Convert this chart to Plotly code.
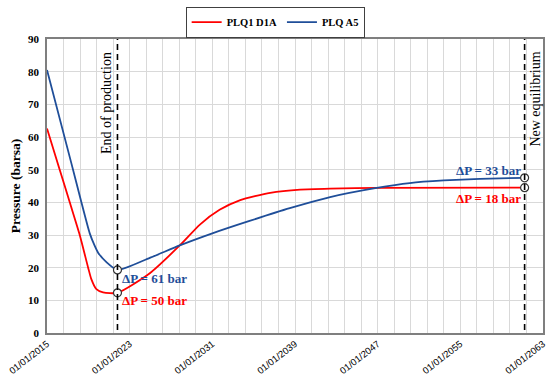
import plotly.graph_objects as go

# ---- data ----
a5_dates = ["2015-01-01", "2017-05-10", "2018-04-08", "2019-02-20",
            "2019-08-08", "2019-12-12", "2020-10-01", "2021-10-27", "2024-12-13",
            "2027-11-06", "2031-01-01", "2034-08-08", "2038-07-02", "2042-05-26",
            "2046-11-25", "2050-02-06", "2053-05-26", "2056-11-25", "2061-03-22"]
a5_vals = [80.5, 52.0, 40.8, 30.5,
           26.8, 24.6, 21.7, 19.3, 23.0,
           26.8, 30.5, 34.3, 38.2, 41.6,
           44.4, 45.9, 46.7, 47.2, 47.5]

d1a_dates = ["2015-01-01", "2016-03-25", "2017-03-15", "2018-03-03", "2018-12-25",
             "2019-04-20", "2019-10-12", "2020-06-05", "2021-10-27", "2024-12-13",
             "2027-11-06", "2029-10-19", "2031-09-13", "2033-09-13", "2036-08-07",
             "2039-07-02", "2042-05-26", "2047-01-01", "2061-03-22"]
d1a_vals = [62.6, 50.0, 40.0, 30.0, 20.0,
            16.4, 13.4, 12.4, 12.3, 18.3,
            26.8, 33.2, 37.7, 40.7, 42.9,
            43.9, 44.2, 44.4, 44.5]

end_prod = "2021-10-27"
new_eq = "2061-03-22"
marker_x = [end_prod, end_prod, new_eq, new_eq]
marker_y = [19.3, 12.3, 47.5, 44.5]

RED = "#FF0000"
BLUE = "#1F4E99"
FONT = "Liberation Serif"

fig = go.Figure()
fig.add_trace(go.Scatter(x=d1a_dates, y=d1a_vals, mode="lines", name="<b>PLQ1 D1A</b>",
                         line=dict(color=RED, width=1.8, shape="spline", smoothing=0.6)))
fig.add_trace(go.Scatter(x=a5_dates, y=a5_vals, mode="lines", name="<b>PLQ A5</b>",
                         line=dict(color=BLUE, width=1.8, shape="spline", smoothing=0.6)))
fig.add_trace(go.Scatter(x=marker_x, y=marker_y, mode="markers", showlegend=False,
                         marker=dict(symbol="circle", size=8, color="white",
                                     line=dict(color="#333333", width=1.2))))

for xv in [end_prod, new_eq]:
    fig.add_shape(type="line", xref="x", yref="paper", x0=xv, x1=xv, y0=0.01, y1=1,
                  line=dict(color="black", width=1.6, dash="6px,4px"), layer="above")

fig.add_annotation(x=end_prod, y=1, xref="x", yref="paper", text="End of production",
                   textangle=-90, showarrow=False, xanchor="right", yanchor="top",
                   xshift=-2, yshift=-11, font=dict(family=FONT, size=14, color="black"))
fig.add_annotation(x=new_eq, y=1, xref="x", yref="paper", text="New equilibrium",
                   textangle=-90, showarrow=False, xanchor="left", yanchor="top",
                   xshift=1, yshift=-11, font=dict(family=FONT, size=14, color="black"))

lab = dict(family=FONT, size=13)
fig.add_annotation(x=end_prod, y=19.3, text="<b>ΔP = 61 bar</b>", showarrow=False,
                   xanchor="left", yanchor="middle", xshift=3, yshift=-9,
                   font=dict(color=BLUE, **lab))
fig.add_annotation(x=end_prod, y=12.3, text="<b>ΔP = 50 bar</b>", showarrow=False,
                   xanchor="left", yanchor="middle", xshift=3, yshift=-8,
                   font=dict(color=RED, **lab))
fig.add_annotation(x=new_eq, y=47.5, text="<b>ΔP = 33 bar</b>", showarrow=False,
                   xanchor="right", yanchor="bottom", xshift=-2, yshift=-2,
                   font=dict(color=BLUE, **lab))
fig.add_annotation(x=new_eq, y=44.5, text="<b>ΔP = 18 bar</b>", showarrow=False,
                   xanchor="right", yanchor="top", xshift=-2, yshift=-1,
                   font=dict(color=RED, **lab))

fig.update_layout(
    width=550, height=376,
    margin=dict(l=47, r=7, t=32, b=43),
    paper_bgcolor="white", plot_bgcolor="white",
    font=dict(family=FONT, color="black"),
    showlegend=True,
    legend=dict(orientation="h", x=0.46, xanchor="center", y=1.005, yanchor="bottom",
                bordercolor="#404040", borderwidth=1,
                font=dict(family=FONT, size=10.5, color="black"),
                itemwidth=30, tracegroupgap=0),
)
fig.update_xaxes(
    type="date", range=["2015-01-01", "2063-01-01"],
    tick0="2015-01-01", dtick="M96", tickformat="%m/%d/%Y", tickangle=-38,
    tickfont=dict(family="Liberation Sans", size=9.5, color="black"),
    showgrid=True, gridcolor="#d9d9d9", gridwidth=1,
    minor=dict(dtick=584.4 * 86400000, tick0="2015-01-01", showgrid=True,
               gridcolor="#d9d9d9", gridwidth=1),
    showline=True, linecolor="#7f7f7f", linewidth=1.5, mirror=True,
    ticks="", zeroline=False, automargin=False,
)
fig.update_yaxes(
    range=[0, 90], dtick=10, tick0=0,
    tickfont=dict(family=FONT, size=11, color="black"),
    tickprefix="<b>", ticksuffix="</b>", ticklabelstandoff=4,
    title=dict(text="<b>Pressure (barsa)</b>", font=dict(family=FONT, size=13.5), standoff=4),
    showgrid=True, gridcolor="#d9d9d9", gridwidth=1,
    showline=True, linecolor="#7f7f7f", linewidth=1.5, mirror=True,
    ticks="", zeroline=False, automargin=False,
)

fig.write_html("out.html", config={"displayModeBar": False},
               post_script="document.body.style.margin='0';document.body.style.overflow='hidden';")
